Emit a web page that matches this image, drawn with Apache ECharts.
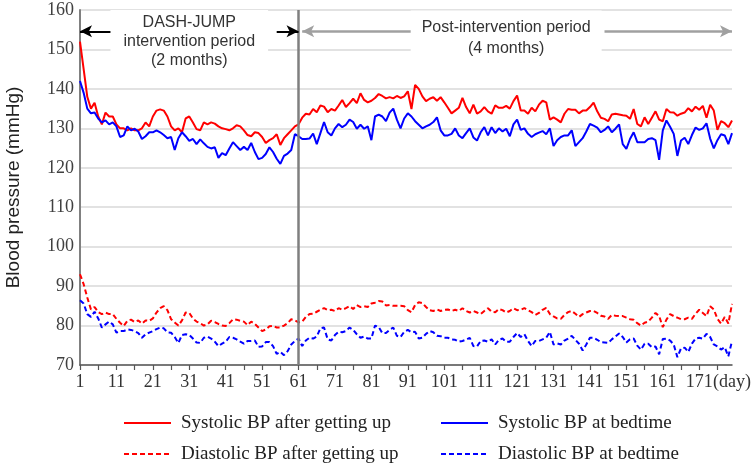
<!DOCTYPE html>
<html>
<head>
<meta charset="utf-8">
<script src="https://cdn.jsdelivr.net/npm/echarts@6/dist/echarts.min.js"></script>
<style>html,body{margin:0;padding:0;background:#fff;}#c{width:754px;height:465px;}</style>
</head>
<body>
<div id="c"></div>
<script>
// ---- data ----
const days = Array.from({length: 180}, (_, i) => String(i + 1));
const xTickLabels = ['1','11','21','31','41','51','61','71','81','91','101','111','121','131','141','151','161','171'];
const xUnitLabel = '(day)';
const yTicks = [70, 80, 90, 100, 110, 120, 130, 140, 150, 160];

const sysWake = [
152,145,138,135,136.5,133,131,134,133,133,
131,130,130,129.5,130,129.5,129.5,130,131.5,130.5,
133,134.5,134.8,134.5,133,130.5,129.5,130,129,132.5,
133,131.5,129.8,129.5,131.5,131,131.5,131.2,130.5,130,
129.8,129.5,130,130.8,130.5,129.5,128.3,128,129,128.8,
127.8,126.3,127,127.5,128.5,125.8,127.5,128.5,129.5,130.5,
131,132.7,133.7,133.5,134.9,134.1,135.8,135.5,134.1,134.9,
134.5,135.8,137.2,135.4,136.4,137.5,136.4,138.9,137.2,136.6,
137,137.7,138.7,138.2,137.6,137.9,137.6,138.2,137.7,138.1,
139.4,134.9,141,140,138.1,136.9,137.5,137.9,137,137.9,
136.6,135.2,133.8,134.5,135.2,137.7,135.4,133.8,136,133.7,
134.3,135.4,134.3,133.7,135.8,135.2,135.2,135.7,135,136.9,
138.3,134.5,134.5,133.7,135.2,134.3,136,137,136.6,132.2,
132.8,132.2,131.5,133.7,134.9,134.7,134.7,133.8,134.5,134.5,
135.4,136.5,134.3,132.7,132.4,131.8,133.5,133.7,133.5,133.3,
133.2,132.4,134.9,131.1,130.5,132.8,131.1,132.7,134.3,132.2,
131.8,134.9,134.1,134,133.2,133.7,134,135.1,134.3,135.5,
134.7,135.7,132.7,136,134.5,129.6,131.8,131.3,130.3,132
];
const sysBed = [
142,139,135,133.8,134,132.5,131.5,132,131,131.5,
130.5,127.8,128.2,130.5,129.5,129.9,129.2,127.3,128,129,
129,129.5,129,128.3,127.5,127.8,124.5,127.5,129,128,
126.8,127.3,126,127.2,126.2,125.3,124.9,125.2,122.5,123.7,
123.2,124.9,126.5,125.5,124.5,125.3,124.5,126.3,124,122.2,
122.5,123.5,125.2,124,122.3,121,123,123.6,124.5,128.5,
128,127.3,127.3,127.4,128.7,126,128.8,131.6,129,128.2,
130,131.1,130.3,130.9,132.2,131.6,129.9,130.9,129.9,130.5,
127,133,133.5,133,131.8,134,135,132.2,130,132.5,
133.8,133,131.8,130.9,130,130.5,130.9,131.6,132.8,129.5,
128.2,128.2,128.6,130,128.2,127.5,128.8,130,127.7,126.9,
129,130.3,128.2,130.3,128.8,130,129.2,129.9,128,131,
132.2,129.6,130,128.6,127.8,128.5,128.9,129.3,128.5,130,
125.5,127,127.8,128.2,128.2,129.5,125.5,126.5,127.5,129.2,
131.1,130.7,130.2,129,129.6,130.5,129,129.9,131,126,
124.8,127.3,129,126.5,126.5,126.5,127.3,127.5,127,122,
129.5,132,130.4,128.6,123,126.9,127.6,126,128.3,130.2,
129.6,130,131.3,127.4,124.9,127,128.5,128.2,126,128.8
];
const diaWake = [
93,90.5,87.1,84.1,84.7,83.4,82.9,83.3,82.9,82.9,
81.7,80.7,79.9,81.2,81.5,80.9,81.3,80.5,81.3,81.2,
81.8,83.3,84.4,84.9,83.9,81.6,80.8,80,81.3,83.3,
83.2,81.8,81,80.6,80,80.3,81.2,80.9,80.4,80,
79.9,80.6,81.6,81.5,81.2,81,80.1,81,80.4,79.5,
78.6,79,79.8,79.9,79.5,79.5,80,80.6,81.6,81.3,
80.8,81,82.2,82.9,83,83.5,84,84.4,83.9,84,
83.7,84.4,84,84.4,84.9,84.2,85.2,84.7,84.9,84.7,
85.6,85.8,86.2,86.1,85.1,85.2,85,85,85,84.9,
83.9,83.4,85.2,85.9,85.7,84.7,83.9,83.7,84.1,83.7,
84,84.1,83.7,84,83.7,84.4,83.7,83.3,83.7,83.3,
82.9,83.7,84.4,83.5,83.4,84.2,83.9,83.3,83.7,84.4,
83.9,84,84.4,83.9,83.4,82.7,83.2,84,84.5,82.9,
82.3,81.8,81.7,82.7,83.4,83.7,83,82.2,82.9,83.3,
83.7,83.7,83.2,82.5,82.3,81.7,82.7,82.5,82.4,82.4,
82,81.6,81.5,80.6,80,80.7,81,82,83.2,82.4,
79.6,81.5,82.9,82.4,82,81.6,81.6,82,81.7,83,
84,83.2,82.4,84.9,84.1,81.7,80.5,82.2,80.5,85.5
];
const diaBed = [
86.4,85.6,82.9,82.2,83.5,81.8,79.5,80.3,81,80.3,
78.2,78.6,78.6,79,78.9,78.6,78.1,76.9,77.8,78.2,
78.6,79.1,79.5,79.3,78.3,78.2,77.1,75.6,77.6,77.8,
77.6,76.7,75.7,75.6,76.9,77.2,76.7,75.9,74.8,75.4,
75.9,77.1,76.9,76.5,75.9,75.4,76.1,76.1,76.2,74.6,
74.7,75.8,75.8,74.8,72.8,73.3,72.5,73.5,75.2,76.1,
76.7,74.8,76.2,76.9,76.7,77.2,79.3,79.5,76.5,76.2,
77.6,78.4,78.3,78.6,79.5,78.9,77.8,76.9,77.2,76.7,
76.7,80,79.6,78.1,78.1,78.9,79.5,77.4,77.1,78.4,
78.9,78.3,78.4,76.7,76.9,77.9,78.6,78.3,77.4,77.3,
76.9,76.9,76.5,76.4,75.9,76.1,76.4,76.9,74.8,74.7,
76.1,76.2,75.9,76.5,75.2,76.4,76.7,75.9,75.9,77.1,
78.1,77.1,77.8,76.1,74.8,76.1,76.1,76.5,76.9,78.4,
75.2,75.5,75.2,76.2,76.7,77.4,76.4,75.4,73.7,75.2,
76.9,76.9,76.4,75.8,75.7,75.6,76.5,77.2,78,77.1,
75.7,76.5,76.7,74.9,73.9,75.4,75.4,74.5,74.7,72.7,
76.6,76.7,76.2,75.2,72,74.2,74.4,73.3,75.4,76.7,
76.9,76.7,77.9,77.1,75.2,74.7,73.9,74.5,72.2,76.1
];
const seriesNames = ['Systolic BP after getting up','Systolic BP at bedtime','Diastolic BP after getting up','Diastolic BP at bedtime'];
// annotation anchors (category day, value)
const interventionEnd = '61';
const arrowLevel = 154.6;
const leftText = {day: '31', value: 152, text: 'DASH-JUMP\nintervention period\n(2 months)'};
const rightText = {day: '118', value: 153, text: 'Post-intervention period\n(4 months)'};
const arrows = [
  {from: '1', to: '11', head: 'from', color: '#000000'},
  {from: '55', to: '61', head: 'to', color: '#000000'},
  {from: '62', to: '93', head: 'from', color: '#a0a0a0'},
  {from: '145', to: '180', head: 'to', color: '#a0a0a0'}
];

// ---- chart ----
const serif = '"Liberation Serif","Times New Roman",serif';
const sans = '"Liberation Sans",Arial,sans-serif';
const chart = echarts.init(document.getElementById('c'), null, {renderer: 'canvas'});

function lineSeries(name, data, color, dashed) {
  return {
    name, type: 'line', data, symbol: 'none', showSymbol: false,
    lineStyle: {color, width: 2, type: dashed ? [5, 3] : 'solid'},
    itemStyle: {color},
    silent: true, animation: false, z: 3
  };
}

const series = [
  lineSeries(seriesNames[0], sysWake, '#ff0000', false),
  lineSeries(seriesNames[1], sysBed, '#0000ff', false),
  lineSeries(seriesNames[2], diaWake, '#ff0000', true),
  lineSeries(seriesNames[3], diaBed, '#0000ff', true)
];

const arrowLines = arrows.map(a => [
  {coord: [a.from, arrowLevel], symbol: a.head === 'from' ? 'arrow' : 'none', symbolSize: [9, 12],
   lineStyle: {color: a.color, width: a.color === '#000000' ? 2 : 2.5, type: 'solid'}, itemStyle: {color: a.color}},
  {coord: [a.to, arrowLevel], symbol: a.head === 'to' ? 'arrow' : 'none', symbolSize: [9, 12], itemStyle: {color: a.color}}
]);

series[0].markLine = {
  silent: true, animation: false, symbol: ['none', 'none'],
  label: {show: false},
  data: [
    {xAxis: interventionEnd, lineStyle: {color: '#7f7f7f', width: 2.5, type: 'solid'}},
    ...arrowLines
  ]
};

function textPoint(t, pad, lh) {
  return {
    coord: [t.day, t.value], symbol: 'rect', symbolSize: 1,
    itemStyle: {color: 'rgba(0,0,0,0)'},
    label: {
      show: true, position: 'inside', formatter: t.text, align: 'center', verticalAlign: 'middle',
      fontFamily: sans, fontSize: 16, lineHeight: lh, color: '#333',
      backgroundColor: '#ffffff', padding: pad
    }
  };
}
series[0].markPoint = {
  silent: true, animation: false,
  data: [textPoint(leftText, [4, 13, 2, 13], 19), textPoint(rightText, [8, 11, 4, 11], 21)]
};

const legendBase = {
  orient: 'vertical', top: 413, padding: 0, itemGap: 11,
  itemWidth: 47, itemHeight: 12,
  itemStyle: {opacity: 0, borderWidth: 0},
  textStyle: {fontFamily: serif, fontSize: 19, color: '#222', lineHeight: 20, padding: [0, 0, 0, 5]}
};

const option = {
  animation: false,
  backgroundColor: '#ffffff',
  grid: {left: 80, right: 22, top: 10, bottom: 100, containLabel: false, outerBoundsMode: 'none'},
  legend: [
    Object.assign({}, legendBase, {left: 123, data: [seriesNames[0], seriesNames[2]]}),
    Object.assign({}, legendBase, {left: 440, data: [seriesNames[1], seriesNames[3]]})
  ],
  xAxis: {
    type: 'category', data: days, boundaryGap: false,
    axisLine: {lineStyle: {color: '#555', width: 1.5}},
    axisTick: {show: true, length: 5, interval: (i) => i % 5 === 0, lineStyle: {color: '#555', width: 1.2}},
    axisLabel: {
      interval: (i, v) => xTickLabels.includes(v) || i === days.length - 1,
      formatter: (v, i) => (i === days.length - 1 ? xUnitLabel : v),
      fontFamily: serif, fontSize: 18, color: '#333', margin: 8
    },
    splitLine: {show: false}
  },
  yAxis: {
    type: 'value', min: yTicks[0], max: yTicks[yTicks.length - 1], interval: 10,
    name: 'Blood pressure (mmHg)', nameLocation: 'middle', nameGap: 57,
    nameTextStyle: {fontFamily: sans, fontSize: 19, color: '#222'},
    axisLine: {show: true, lineStyle: {color: '#808080', width: 2}},
    axisTick: {show: false},
    axisLabel: {fontFamily: serif, fontSize: 18, color: '#404040', margin: 6},
    splitLine: {lineStyle: {color: '#d9d9d9', width: 1.5}}
  },
  series
};
chart.setOption(option);
</script>
</body>
</html>
